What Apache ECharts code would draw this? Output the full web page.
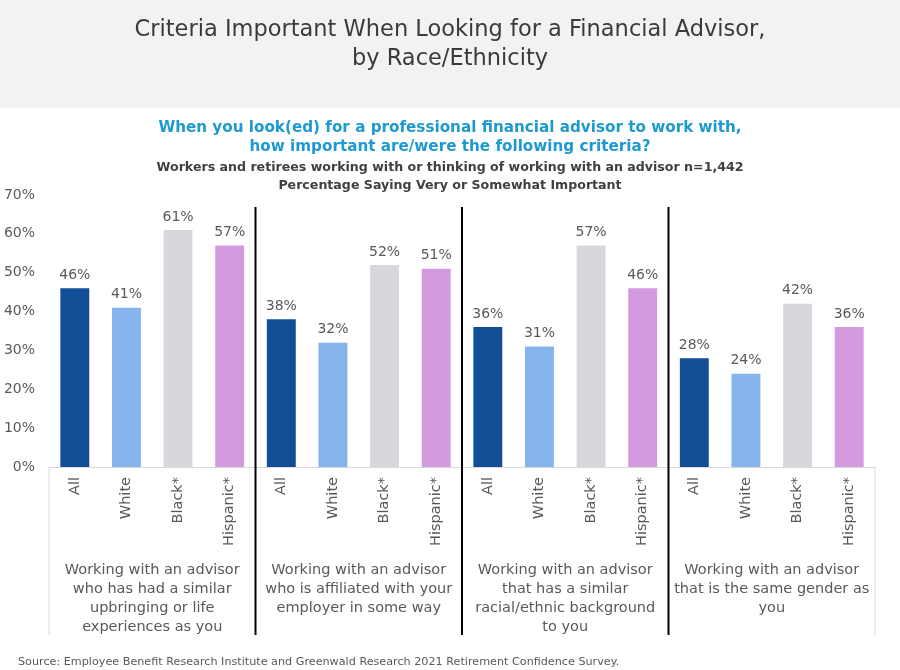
<!DOCTYPE html>
<html><head><meta charset="utf-8">
<script src="https://cdn.jsdelivr.net/npm/echarts@6/dist/echarts.min.js"></script>
<style>html,body{margin:0;padding:0;background:#fff}#c{width:900px;height:670px}</style>
</head><body><div id="c"></div>
<script>
const groups = [
  "Working with an advisor\nwho has had a similar\nupbringing or life\nexperiences as you",
  "Working with an advisor\nwho is affiliated with your\nemployer in some way",
  "Working with an advisor\nthat has a similar\nracial/ethnic background\nto you",
  "Working with an advisor\nthat is the same gender as\nyou"
];
const races = ["All", "White", "Black*", "Hispanic*"];
const raceColors = ["#124e96", "#86b4ec", "#d9d7db", "#d49ae0"];
const values = [
  [46, 41, 61, 57],
  [38, 32, 52, 51],
  [36, 31, 57, 46],
  [28, 24, 42, 36]
];
const yTicks = [0, 10, 20, 30, 40, 50, 60, 70];

const cats = [];
const data = [];
groups.forEach((g, gi) => races.forEach((r, ri) => {
  cats.push(r);
  data.push({ value: values[gi][ri], itemStyle: { color: raceColors[ri] } });
}));

const font = "DejaVu Sans";
const grey = "#595959";
const chart = echarts.init(document.getElementById('c'), null, { renderer: 'canvas' });
const gridL = 49, gridR = 25, gridT = 195, gridB = 203;

chart.setOption({
  animation: false,
  backgroundColor: '#fff',
  title: [
    { text: 'Criteria Important When Looking for a Financial Advisor,\nby Race/Ethnicity', left: 'center', top: 11,
      textStyle: { fontFamily: font, fontSize: 22.5, fontWeight: 'normal', color: '#3a3a3a', lineHeight: 29 } },
    { text: 'When you look(ed) for a professional financial advisor to work with,\nhow important are/were the following criteria?', left: 'center', top: 114,
      textStyle: { fontFamily: font, fontSize: 15.2, fontWeight: 'bold', color: '#1e9ad0', lineHeight: 19 } },
    { text: 'Workers and retirees working with or thinking of working with an advisor n=1,442\nPercentage Saying Very or Somewhat Important', left: 'center', top: 154,
      textStyle: { fontFamily: font, fontSize: 12.6, fontWeight: 'bold', color: '#404040', lineHeight: 18 } },
    { text: 'Source: Employee Benefit Research Institute and Greenwald Research 2021 Retirement Confidence Survey.', left: 13, top: 652,
      textStyle: { fontFamily: font, fontSize: 11.2, fontWeight: 'normal', color: grey } }
  ],
  grid: { left: gridL, right: gridR, top: gridT, bottom: gridB },
  xAxis: [
    { type: 'category', data: cats, position: 'bottom',
      axisLine: { lineStyle: { color: '#d9d9d9', width: 1 } }, axisTick: { show: false },
      axisLabel: { rotate: 90, margin: 10, fontFamily: font, fontSize: 14.5, color: grey, interval: 0 } },
    { type: 'category', data: groups, position: 'bottom', offset: 86,
      axisLine: { show: false }, axisTick: { show: false },
      axisLabel: { fontFamily: font, fontSize: 14.5, color: grey, lineHeight: 19, interval: 0, verticalAlign: 'top' } }
  ],
  yAxis: { type: 'value', min: yTicks[0], max: yTicks[yTicks.length - 1], interval: 10,
    axisLine: { show: false }, axisTick: { show: false }, splitLine: { show: false },
    axisLabel: { formatter: '{value}%', fontFamily: font, fontSize: 14, color: grey, margin: 14 } },
  series: [{
    type: 'bar', xAxisIndex: 0, data: data, barCategoryGap: '44%',
    label: { show: true, position: 'top', formatter: '{c}%', fontFamily: font, fontSize: 14, color: grey, distance: 6 }
  }]
});

// separator lines between groups and light frame lines below axis
const lines = [];
const y0 = chart.convertToPixel({ yAxisIndex: 0 }, 0);
const n = cats.length;
const step = (900 - gridL - gridR) / n;
for (let g = 0; g <= groups.length; g++) {
  const x = gridL + g * races.length * step;
  const edge = (g === 0 || g === groups.length);
  lines.push({ type: 'line', shape: { x1: x, y1: edge ? y0 : 207, x2: x, y2: 635 },
    style: { stroke: edge ? '#d9d9d9' : '#000', lineWidth: edge ? 1 : 2 }, z: 10 });
}
chart.setOption({ graphic: [
  { type: 'rect', shape: { x: 0, y: 0, width: 900, height: 108 }, style: { fill: '#f2f2f2' }, z: -10 },
  ...lines
] });
</script></body></html>
